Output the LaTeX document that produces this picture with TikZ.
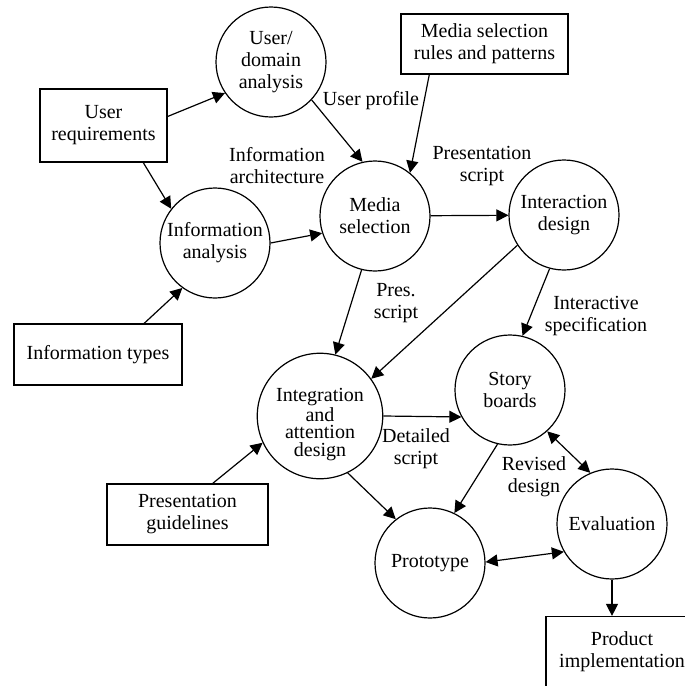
\documentclass[tikz,border=0pt]{standalone}
\usepackage{fontspec}
\setmainfont{Liberation Serif}
\usetikzlibrary{arrows.meta}
\tikzset{
>={Triangle[length=6pt,width=6pt]},
  process/.style={
    circle,
    draw=black, line width=0.6pt,
    minimum size=55pt,
    inner sep=0pt,
    align=center},
  store/.style={
    rectangle,
    draw=black, line width=0.6pt,
    inner sep=0pt,
    align=center},
  flow/.style={draw, line width=0.6pt, ->},
  twoway/.style={draw, line width=0.6pt, <->},
  flowlabel/.style={align=center},
}

\begin{document}
\begin{tikzpicture}[
    x=0.5pt, y=-0.5pt,
    every node/.style={font=\fontsize{10}{11}\selectfont, color=black}
    ]
    \clip (0,0) rectangle (685,686);

    % data stores
    \node[store, minimum width=63.5pt, minimum height=36.5pt] (ureq) at (103.5,125.5) {User\\requirements};
    \node[store, minimum width=83.5pt, minimum height=30pt] (rules) at (484.5,44) {Media selection\\rules and patterns};
    \node[store, minimum width=84pt, minimum height=30.5pt] (itypes) at (98,354.5) {Information types};
    \node[store, minimum width=80.5pt, minimum height=30.5pt] (pguide) at (187.5,514.5) {Presentation\\guidelines};
    \node[store, minimum width=76pt, minimum height=35.5pt] (prod) at (622,652) {Product\\implementation};

    % processes
    \node[process] (uda) at (271,62) {User/\\domain\\analysis};
    \node[process] (ia) at (215,243) {Information\\analysis};
    \node[process] (ms) at (375,216) {Media\\selection};
    \node[process] (id) at (564,215) {Interaction\\design};
    \node[process, minimum size=56.5pt, font=\fontsize{10}{8.8}\selectfont] (integ) at (320,416)
        {\rule{0pt}{15pt}Integration\\and\\attention\\design};
    \node[process] (sb) at (510,390) {Story\\boards};
    \node[process] (proto) at (430,563) {Prototype};
    \node[process] (eval) at (612,524) {Evaluation};

    % labels
    \node[flowlabel] (lprofile) at (371,101) {User profile};
    \node[flowlabel] (larch) at (277,166) {Information\\architecture};
    \node[flowlabel] (lpscript) at (482,166) {Presentation\\script};
    \node[flowlabel] (lpres) at (396,303) {Pres.\\script};
    \node[flowlabel] (lspec) at (596,316) {Interactive\\specification};
    \node[flowlabel] (ldetail) at (416,449) {Detailed\\script};
    \node[flowlabel] (lrevised) at (534,477) {Revised\\design};

    % flows
    \draw[flow] (ureq.8) -- (uda.214);
    \draw[flow] (ureq.-43) -- (ia.142);
    \draw[flow] (itypes.34) -- (ia.-126);
    \draw[flow] (ia.0) -- (ms.198);
    \draw[flow] (uda.-43) -- (ms.103);
    \draw[flow] (rules.209) -- (ms.51.5);
    \draw[flow] (ms) -- (id);
    \draw[flow] (ms.-104) -- (integ.76.5);
    \draw[flow] (id.213) -- (integ.36.7);
    \draw[flow] (id.-105.5) -- (sb.77);
    \draw[flow] (integ.0) -- (sb.209);
    \draw[flow] (pguide.51) -- (integ.205);
    \draw[flow] (integ.-64) -- (proto.128.5);
    \draw[flow] (sb.-103) -- (proto.64.8);
    \draw[twoway] (sb.-48.5) -- (eval.113);
    \draw[twoway] (proto.1) -- (eval.210);
    \draw[flow] (eval.south) -- (eval.south |- prod.north);

\end{tikzpicture}
\end{document}
